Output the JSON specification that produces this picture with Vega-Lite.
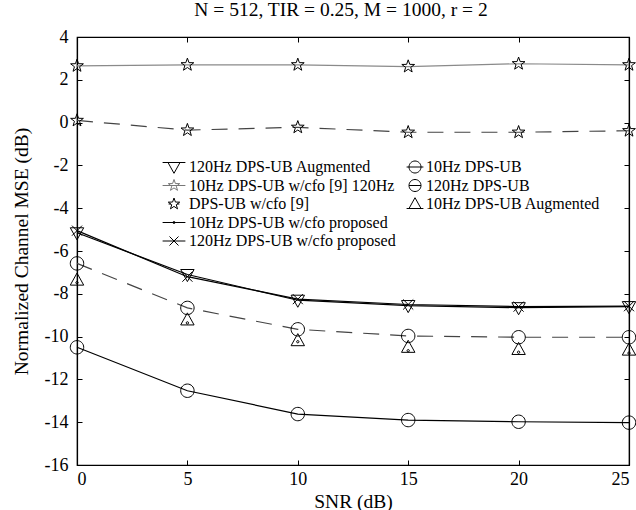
{
  "$schema": "https://vega.github.io/schema/vega-lite/v6.json",
  "width": 552,
  "height": 428,
  "autosize": "none",
  "padding": {"left": 77, "top": 37, "right": 7, "bottom": 45},
  "title": {"text": "N = 512, TIR = 0.25,  M = 1000, r = 2", "font": "Liberation Serif", "fontSize": 19.5, "fontWeight": "normal", "color": "black", "offset": 8, "dx": -12},
  "config": {
    "view": {"stroke": "black", "strokeWidth": 1.2},
    "font": "Liberation Serif",
    "axis": {"grid": false, "domainColor": "black", "domainWidth": 1.2, "tickColor": "black", "tickWidth": 1, "tickSize": -5, "labelColor": "black", "titleColor": "black", "labelFont": "Liberation Serif", "titleFont": "Liberation Serif", "labelFontSize": 18, "titleFontSize": 19.5, "titleFontWeight": "normal"},
    "legend": {"labelFont": "Liberation Serif", "labelFontSize": 16, "labelColor": "black", "labelLimit": 400}
  },
  "data": {"values": [
    {"series": "120Hz DPS-UB Augmented", "snr": 0, "mse": -5.15},
    {"series": "120Hz DPS-UB Augmented", "snr": 5, "mse": -7.1},
    {"series": "120Hz DPS-UB Augmented", "snr": 10, "mse": -8.3},
    {"series": "120Hz DPS-UB Augmented", "snr": 15, "mse": -8.55},
    {"series": "120Hz DPS-UB Augmented", "snr": 20, "mse": -8.65},
    {"series": "120Hz DPS-UB Augmented", "snr": 25, "mse": -8.6},
    {"series": "10Hz DPS-UB w/cfo [9] 120Hz", "snr": 0, "mse": 2.65},
    {"series": "10Hz DPS-UB w/cfo [9] 120Hz", "snr": 5, "mse": 2.7},
    {"series": "10Hz DPS-UB w/cfo [9] 120Hz", "snr": 10, "mse": 2.7},
    {"series": "10Hz DPS-UB w/cfo [9] 120Hz", "snr": 15, "mse": 2.62},
    {"series": "10Hz DPS-UB w/cfo [9] 120Hz", "snr": 20, "mse": 2.75},
    {"series": "10Hz DPS-UB w/cfo [9] 120Hz", "snr": 25, "mse": 2.7},
    {"series": "DPS-UB w/cfo [9]", "snr": 0, "mse": 0.1},
    {"series": "DPS-UB w/cfo [9]", "snr": 5, "mse": -0.35},
    {"series": "DPS-UB w/cfo [9]", "snr": 10, "mse": -0.22},
    {"series": "DPS-UB w/cfo [9]", "snr": 15, "mse": -0.45},
    {"series": "DPS-UB w/cfo [9]", "snr": 20, "mse": -0.45},
    {"series": "DPS-UB w/cfo [9]", "snr": 25, "mse": -0.38},
    {"series": "10Hz DPS-UB w/cfo proposed", "snr": 0, "mse": -7.48},
    {"series": "10Hz DPS-UB w/cfo proposed", "snr": 5, "mse": -9.36},
    {"series": "10Hz DPS-UB w/cfo proposed", "snr": 10, "mse": -10.24},
    {"series": "10Hz DPS-UB w/cfo proposed", "snr": 15, "mse": -10.66},
    {"series": "10Hz DPS-UB w/cfo proposed", "snr": 20, "mse": -10.73},
    {"series": "10Hz DPS-UB w/cfo proposed", "snr": 25, "mse": -10.77},
    {"series": "120Hz DPS-UB w/cfo proposed", "snr": 0, "mse": -5.05},
    {"series": "120Hz DPS-UB w/cfo proposed", "snr": 5, "mse": -7.2},
    {"series": "120Hz DPS-UB w/cfo proposed", "snr": 10, "mse": -8.25},
    {"series": "120Hz DPS-UB w/cfo proposed", "snr": 15, "mse": -8.5},
    {"series": "120Hz DPS-UB w/cfo proposed", "snr": 20, "mse": -8.6},
    {"series": "120Hz DPS-UB w/cfo proposed", "snr": 25, "mse": -8.58},
    {"series": "10Hz DPS-UB", "snr": 0, "mse": -10.5},
    {"series": "10Hz DPS-UB", "snr": 5, "mse": -12.53},
    {"series": "10Hz DPS-UB", "snr": 10, "mse": -13.62},
    {"series": "10Hz DPS-UB", "snr": 15, "mse": -13.9},
    {"series": "10Hz DPS-UB", "snr": 20, "mse": -13.98},
    {"series": "10Hz DPS-UB", "snr": 25, "mse": -14.02},
    {"series": "120Hz DPS-UB", "snr": 0, "mse": -6.58},
    {"series": "120Hz DPS-UB", "snr": 5, "mse": -8.66},
    {"series": "120Hz DPS-UB", "snr": 10, "mse": -9.66},
    {"series": "120Hz DPS-UB", "snr": 15, "mse": -9.97},
    {"series": "120Hz DPS-UB", "snr": 20, "mse": -10.03},
    {"series": "120Hz DPS-UB", "snr": 25, "mse": -10.03},
    {"series": "10Hz DPS-UB Augmented", "snr": 0, "mse": -7.36},
    {"series": "10Hz DPS-UB Augmented", "snr": 5, "mse": -9.22},
    {"series": "10Hz DPS-UB Augmented", "snr": 10, "mse": -10.19},
    {"series": "10Hz DPS-UB Augmented", "snr": 15, "mse": -10.5},
    {"series": "10Hz DPS-UB Augmented", "snr": 20, "mse": -10.6},
    {"series": "10Hz DPS-UB Augmented", "snr": 25, "mse": -10.63}
  ]},
  "layer": [
    {
      "transform": [{"filter": {"field": "series", "oneOf": ["120Hz DPS-UB Augmented", "120Hz DPS-UB w/cfo proposed", "10Hz DPS-UB"]}}],
      "mark": {"type": "line", "color": "black", "strokeWidth": 1.2},
      "encoding": {
        "x": {"field": "snr", "type": "quantitative", "scale": {"domain": [0, 25], "nice": false}, "axis": {"orient": "bottom", "values": [0, 5, 10, 15, 20, 25], "title": "SNR (dB)", "labelPadding": 10, "titlePadding": 4}},
        "y": {"field": "mse", "type": "quantitative", "scale": {"domain": [-16, 4], "nice": false}, "axis": {"orient": "left", "values": [-16, -14, -12, -10, -8, -6, -4, -2, 0, 2, 4], "labelExpr": "'' + datum.value", "title": "Normalized Channel MSE (dB)", "labelPadding": 14, "titlePadding": 13}},
        "detail": {"field": "series"}
      }
    },
    {
      "transform": [{"filter": {"field": "series", "equal": "10Hz DPS-UB w/cfo [9] 120Hz"}}],
      "mark": {"type": "line", "color": "#8a8a8a", "strokeWidth": 1.2},
      "encoding": {
        "x": {"field": "snr", "type": "quantitative", "axis": {"orient": "top", "values": [0, 5, 10, 15, 20, 25], "labels": false, "title": null}},
        "y": {"field": "mse", "type": "quantitative", "axis": {"orient": "right", "values": [-16, -14, -12, -10, -8, -6, -4, -2, 0, 2, 4], "labels": false, "title": null}}
      }
    },
    {
      "transform": [{"filter": {"field": "series", "oneOf": ["DPS-UB w/cfo [9]", "120Hz DPS-UB"]}}],
      "mark": {"type": "line", "color": "#444444", "strokeWidth": 1.2, "strokeDash": [16, 11]},
      "encoding": {
        "x": {"field": "snr", "type": "quantitative", "axis": null},
        "y": {"field": "mse", "type": "quantitative", "axis": null},
        "detail": {"field": "series"}
      }
    },
    {
      "mark": {"type": "point", "filled": false, "stroke": "black", "strokeWidth": 1, "size": 180, "opacity": 1},
      "encoding": {
        "x": {"field": "snr", "type": "quantitative", "axis": null},
        "y": {"field": "mse", "type": "quantitative", "axis": null},
        "shape": {
          "field": "series", "type": "nominal", "legend": null,
          "scale": {
            "domain": ["120Hz DPS-UB Augmented", "10Hz DPS-UB w/cfo [9] 120Hz", "DPS-UB w/cfo [9]", "10Hz DPS-UB w/cfo proposed", "120Hz DPS-UB w/cfo proposed", "10Hz DPS-UB", "120Hz DPS-UB", "10Hz DPS-UB Augmented"],
            "range": [
              "M-1,-0.75L1,-0.75L0,1.05Z",
              "M0,-1L0.235,-0.324L0.951,-0.309L0.38,0.124L0.588,0.809L0,0.4L-0.588,0.809L-0.38,0.124L-0.951,-0.309L-0.235,-0.324Z",
              "M0,-1L0.235,-0.324L0.951,-0.309L0.38,0.124L0.588,0.809L0,0.4L-0.588,0.809L-0.38,0.124L-0.951,-0.309L-0.235,-0.324Z",
              "M0.18,0A0.18,0.18 0 1 1 -0.18,0A0.18,0.18 0 1 1 0.18,0",
              "M-0.75,-0.75L0.75,0.75M-0.75,0.75L0.75,-0.75",
              "M1,0A1,1 0 1 1 -1,0A1,1 0 1 1 1,0",
              "M1,0A1,1 0 1 1 -1,0A1,1 0 1 1 1,0",
              "M0,-1.05L1,0.75L-1,0.75Z"
            ]
          }
        }
      }
    },
    {
      "transform": [{"filter": {"field": "snr", "lt": -100}}],
      "mark": {"type": "point", "filled": false, "strokeWidth": 1, "size": 144, "opacity": 1},
      "encoding": {
        "x": {"field": "snr", "type": "quantitative", "axis": null},
        "y": {"field": "mse", "type": "quantitative", "axis": null},
        "stroke": {
          "field": "series", "type": "nominal",
          "scale": {"domain": ["120Hz DPS-UB Augmented", "10Hz DPS-UB w/cfo [9] 120Hz", "DPS-UB w/cfo [9]", "10Hz DPS-UB w/cfo proposed", "120Hz DPS-UB w/cfo proposed"], "range": ["black", "#777777", "black", "black", "black"]},
          "legend": {"title": null, "orient": "none", "legendX": 89, "legendY": 122, "direction": "vertical", "symbolSize": 144, "symbolStrokeWidth": 1, "labelOffset": 7, "rowPadding": 0.5, "padding": 0}
        },
        "shape": {
          "field": "series", "type": "nominal",
          "scale": {
            "domain": ["120Hz DPS-UB Augmented", "10Hz DPS-UB w/cfo [9] 120Hz", "DPS-UB w/cfo [9]", "10Hz DPS-UB w/cfo proposed", "120Hz DPS-UB w/cfo proposed"],
            "range": [
              "M0,-1.05M0,1.05M-1.9,-0.75L1.9,-0.75M-1,-0.75L1,-0.75L0,1.05Z",
              "M0,-1.05M0,1.05M-1.9,0L1.9,0M0,-1L0.235,-0.324L0.951,-0.309L0.38,0.124L0.588,0.809L0,0.4L-0.588,0.809L-0.38,0.124L-0.951,-0.309L-0.235,-0.324Z",
              "M0,-1.05M0,1.05M-0.9,0L-0.5,0M0.5,0L0.9,0M0,-1L0.235,-0.324L0.951,-0.309L0.38,0.124L0.588,0.809L0,0.4L-0.588,0.809L-0.38,0.124L-0.951,-0.309L-0.235,-0.324Z",
              "M0,-1.05M0,1.05M-1.9,0L1.9,0M0.18,0A0.18,0.18 0 1 1 -0.18,0A0.18,0.18 0 1 1 0.18,0",
              "M0,-1.05M0,1.05M-1.9,0L1.9,0M-0.75,-0.75L0.75,0.75M-0.75,0.75L0.75,-0.75"
            ]
          },
          "legend": {"title": null, "orient": "none", "legendX": 89, "legendY": 122, "direction": "vertical", "symbolSize": 144, "symbolStrokeWidth": 1, "labelOffset": 7, "rowPadding": 0.5, "padding": 0}
        }
      }
    },
    {
      "transform": [{"filter": {"field": "snr", "lt": -100}}],
      "mark": {"type": "point", "filled": false, "stroke": "black", "strokeWidth": 1, "size": 144, "opacity": 1},
      "encoding": {
        "x": {"field": "snr", "type": "quantitative", "axis": null},
        "y": {"field": "mse", "type": "quantitative", "axis": null},
        "shape": {
          "field": "series", "type": "nominal",
          "scale": {
            "domain": ["10Hz DPS-UB", "120Hz DPS-UB", "10Hz DPS-UB Augmented"],
            "range": [
              "M0,-1.05M0,1.05M-1.4,0L1.4,0M1,0A1,1 0 1 1 -1,0A1,1 0 1 1 1,0",
              "M0,-1.05M0,1.05M-1,0L1,0M1,0A1,1 0 1 1 -1,0A1,1 0 1 1 1,0",
              "M0,-1.05M0,1.05M-1.4,0.75L1.4,0.75M0,-1.05L1,0.75L-1,0.75Z"
            ]
          },
          "legend": {"title": null, "orient": "none", "legendX": 330, "legendY": 122, "direction": "vertical", "symbolSize": 144, "symbolStrokeWidth": 1, "labelOffset": 3, "rowPadding": 0.5, "padding": 0}
        }
      }
    }
  ],
  "resolve": {"scale": {"shape": "independent", "stroke": "independent"}, "legend": {"shape": "independent", "stroke": "independent"}, "axis": {"x": "independent", "y": "independent"}}
}
